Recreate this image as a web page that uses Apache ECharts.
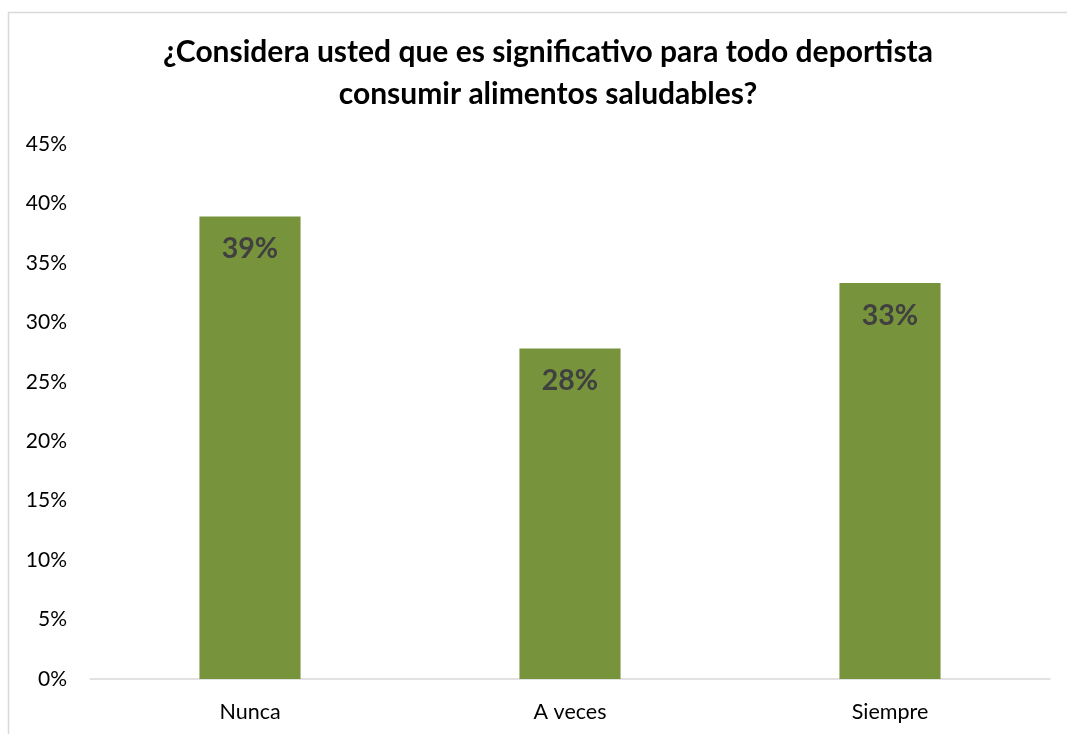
<!DOCTYPE html>
<html>
<head>
<meta charset="utf-8">
<style>
  html, body { margin: 0; padding: 0; background: #fff; }
  #chart { width: 1067px; height: 734px; }
</style>
<script src="https://cdn.jsdelivr.net/npm/echarts@6/dist/echarts.min.js"></script>
</head>
<body>
<div id="chart"></div>
<script>
// Survey answers (share of respondents, %)
const categories = ['Nunca', 'A veces', 'Siempre'];
const shares = [38.9, 27.8, 33.3];
const yTicks = { min: 0, max: 45, step: 5 };

const chart = echarts.init(document.getElementById('chart'));
const fontFamily = 'Lato, "Open Sans", "Noto Sans", sans-serif';

chart.setOption({
  animation: false,
  backgroundColor: '#ffffff',
  title: {
    text: '¿Considera usted que es significativo para todo deportista\nconsumir alimentos saludables?',
    left: 543,
    textAlign: 'center',
    top: 26,
    textStyle: {
      fontFamily: fontFamily,
      fontSize: 30,
      fontWeight: 'bold',
      color: '#000000',
      lineHeight: 42
    }
  },
  graphic: [{
    type: 'rect',
    shape: { x: 8.5, y: 12.5, width: 1100, height: 800 },
    style: { fill: 'none', stroke: '#d9d9d9', lineWidth: 1.5 },
    silent: true,
    z: -1
  }],
  grid: { left: 90, right: 17, top: 144, bottom: 55 },
  xAxis: {
    type: 'category',
    data: categories,
    axisLine: { lineStyle: { color: '#d9d9d9', width: 1.5 } },
    axisTick: { show: false },
    axisLabel: {
      fontFamily: fontFamily,
      fontSize: 21.5,
      color: '#000000',
      margin: 22
    }
  },
  yAxis: {
    type: 'value',
    min: yTicks.min,
    max: yTicks.max,
    interval: yTicks.step,
    axisLine: { show: false },
    axisTick: { show: false },
    splitLine: { show: false },
    axisLabel: {
      fontFamily: fontFamily,
      fontSize: 21,
      color: '#000000',
      margin: 23,
      formatter: v => v + '%'
    }
  },
  series: [{
    type: 'bar',
    data: shares,
    barWidth: '31.6%',
    itemStyle: { color: '#77933c' },
    label: {
      show: true,
      position: 'insideTop',
      distance: 18,
      fontFamily: fontFamily,
      fontSize: 28.5,
      fontWeight: 'bold',
      color: '#404040',
      formatter: p => Math.round(p.value) + '%'
    }
  }]
});
</script>
</body>
</html>
